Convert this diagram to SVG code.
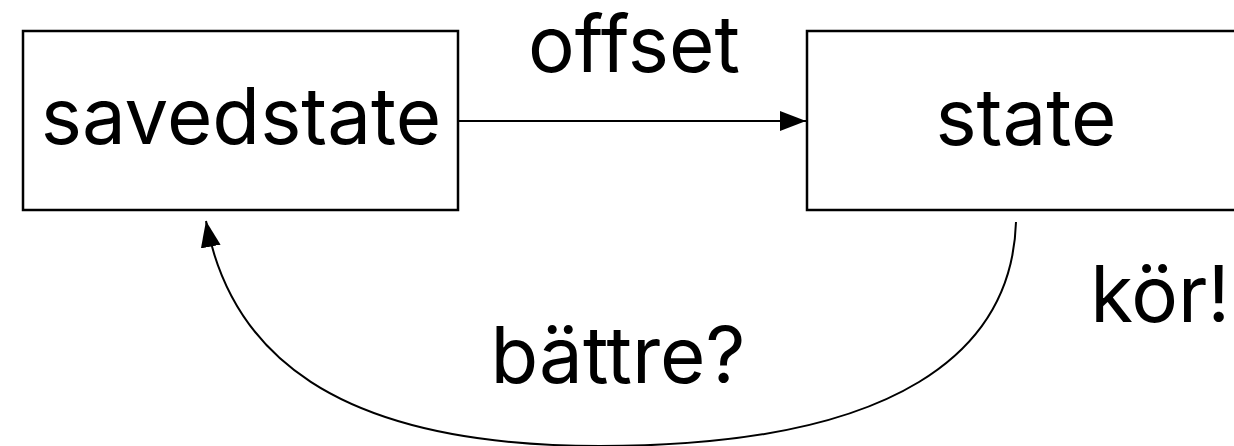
<svg xmlns="http://www.w3.org/2000/svg" width="1234" height="446" viewBox="0 0 1234 446">
<style>
.box{fill:#fff;stroke:#000;stroke-width:2.5}
.lbl{font-family:Inter,"Liberation Sans",sans-serif;font-size:78px;fill:#000;text-anchor:middle}
.edge{fill:none;stroke:#000;stroke-width:2}
</style>
<defs>
<marker id="ah" markerUnits="userSpaceOnUse" markerWidth="26" markerHeight="20" refX="26" refY="10" orient="auto" viewBox="0 0 26 20">
<path d="M0,0 L26,10 L0,20 z" fill="#000"/>
</marker>
</defs>
<rect width="1234" height="446" fill="#fff"/>
<g id="savedstate">
<rect class="box" x="23" y="31" width="435" height="179"/>
<text class="lbl" x="241" y="144">savedstate</text>
</g>
<g id="state">
<rect class="box" x="807" y="31" width="440" height="179"/>
<text class="lbl" x="1026" y="145">state</text>
</g>
<g id="connectors">
<line class="edge" x1="458" y1="121" x2="806" y2="121" marker-end="url(#ah)"/>
<path class="edge" d="M1016,222 C1012,350 900,446 600,446 C330,446 230,350 206,221" marker-end="url(#ah)"/>
<text class="lbl" x="634" y="72">offset</text>
<text class="lbl" x="618" y="383">bättre?</text>
<text class="lbl" x="1160" y="322">kör!</text>
</g>
</svg>
